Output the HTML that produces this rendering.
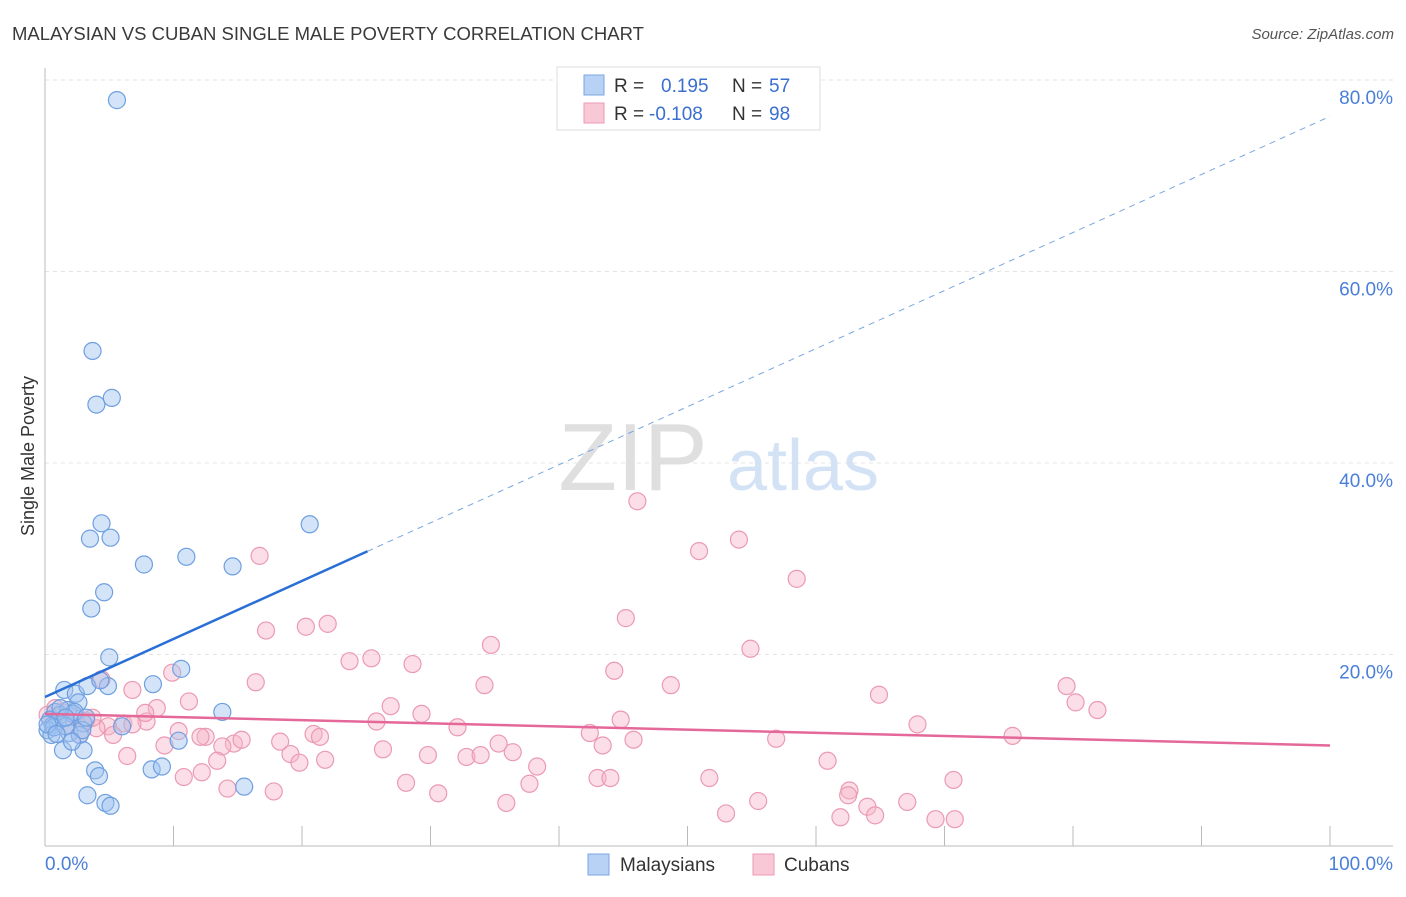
<!DOCTYPE html>
<html><head><meta charset="utf-8"><style>
body{margin:0;background:#fff;font-family:"Liberation Sans",sans-serif}
svg text{font-family:"Liberation Sans",sans-serif}
</style></head><body>
<svg id="chart" width="1406" height="892" xmlns="http://www.w3.org/2000/svg">
<text x="12" y="40" font-size="18" fill="#3a3a3a" textLength="632" lengthAdjust="spacingAndGlyphs">MALAYSIAN VS CUBAN SINGLE MALE POVERTY CORRELATION CHART</text>
<text x="1394" y="39" font-size="15" fill="#555" font-style="italic" text-anchor="end">Source: ZipAtlas.com</text>
<g id="grid"></g>
<g opacity="0.9">
<text x="633" y="490" font-size="96" font-family="Liberation Serif" fill="#dcdcdc" text-anchor="middle">ZIP</text>
<text x="803" y="490" font-size="72" fill="#cfe0f5" text-anchor="middle">atlas</text>
</g>
<text transform="translate(34,456) rotate(-90)" font-size="18" fill="#333" text-anchor="middle">Single Male Poverty</text>
<g id="points"></g>
<g id="trends"></g>
<g>
<rect x="557" y="67" width="263" height="63" fill="#fff" stroke="#ddd"/>
<rect x="584" y="75" width="20" height="20" fill="#b8d2f5" stroke="#7aa6e0"/>
<rect x="584" y="103" width="20" height="20" fill="#f8c8d6" stroke="#eb9ab3"/>
<text x="614" y="92" font-size="19" fill="#333">R =</text>
<text x="661" y="92" font-size="19" fill="#3a6fd0">0.195</text>
<text x="732" y="92" font-size="19" fill="#333">N =</text>
<text x="769" y="92" font-size="19" fill="#3a6fd0">57</text>
<text x="614" y="120" font-size="19" fill="#333">R =</text>
<text x="649" y="120" font-size="19" fill="#3a6fd0">-0.108</text>
<text x="732" y="120" font-size="19" fill="#333">N =</text>
<text x="769" y="120" font-size="19" fill="#3a6fd0">98</text>
</g>
<g>
<rect x="588" y="854" width="21" height="21" fill="#b8d2f5" stroke="#7aa6e0"/>
<text x="620" y="871" font-size="19" fill="#333">Malaysians</text>
<rect x="753" y="854" width="21" height="21" fill="#f8c8d6" stroke="#eb9ab3"/>
<text x="784" y="871" font-size="19" fill="#333">Cubans</text>
</g>
</svg>
<script>
const blueX=[5.6,3.7,4.0,5.2,4.4,3.5,5.1,20.6,7.7,11.0,14.6,4.6,3.6,5.0,10.6,8.4,1.5,2.4,3.3,4.9,2.6,4.3,0.8,1.2,1.8,2.2,0.4,0.6,1.0,3.0,0.2,0.5,1.9,2.7,2.9,6.0,13.8,10.4,1.4,3.0,3.9,4.2,8.3,9.1,3.3,4.7,5.1,15.5,0.7,1.6,0.2,0.9,2.3,3.2,1.2,1.6,2.1];
const blueY=[77.9,51.7,46.1,46.8,33.7,32.1,32.2,33.6,29.4,30.2,29.2,26.5,24.8,19.7,18.5,16.9,16.3,15.9,16.7,16.7,15.0,17.3,14.0,13.7,14.2,13.8,13.2,12.6,13.0,12.8,12.1,11.6,11.8,11.6,12.1,12.5,14.0,11.0,10.0,10.0,7.9,7.3,8.0,8.3,5.3,4.5,4.2,6.2,12.4,12.5,12.7,11.7,14.0,13.4,14.4,13.4,10.9];
const pinkX=[46.1,50.9,54.0,58.5,16.7,45.2,17.2,20.3,22.0,34.7,23.7,25.4,28.6,44.3,54.9,34.2,48.7,64.9,79.5,80.2,81.9,9.9,16.4,6.8,11.2,4.4,26.9,29.3,25.8,32.1,44.8,67.9,75.3,42.4,45.8,43.4,56.9,35.3,36.4,32.8,33.9,26.3,29.8,20.9,21.4,18.3,19.1,19.8,21.8,14.7,15.3,13.8,9.3,12.5,10.4,7.9,6.1,4.9,6.8,8.7,7.8,4.0,3.2,2.3,1.3,0.8,0.2,1.8,6.4,12.1,13.4,38.3,60.9,51.7,43.0,44.0,70.7,28.1,10.8,12.2,14.2,17.8,30.6,37.7,35.9,55.5,62.6,62.5,64.0,64.6,67.1,53.0,61.9,69.3,70.8,5.3,3.7,2.7];
const pinkY=[36.0,30.8,32.0,27.9,30.3,23.8,22.5,22.9,23.2,21.0,19.3,19.6,19.0,18.3,20.6,16.8,16.8,15.8,16.7,15.0,14.2,18.1,17.1,16.3,15.1,17.4,14.6,13.8,13.0,12.4,13.2,12.7,11.5,11.8,11.1,10.5,11.2,10.7,9.8,9.3,9.5,10.1,9.5,11.7,11.4,10.9,9.6,8.7,9.0,10.7,11.1,10.4,10.5,11.4,12.0,13.0,12.8,12.5,12.7,14.4,13.9,12.3,13.1,13.6,14.0,14.4,13.7,12.6,9.4,11.4,8.9,8.3,8.9,7.1,7.1,7.1,6.9,6.6,7.2,7.7,6.0,5.7,5.5,6.5,4.5,4.7,5.8,5.3,4.1,3.2,4.6,3.4,3.0,2.8,2.8,11.6,13.4,11.6];
const yTicks=[20,40,60,80];
const yTickLabels=["20.0%","40.0%","60.0%","80.0%"];
const xTicks=[0,10,20,30,40,50,60,70,80,90,100];
const blueTrend=[15.56,76.2];
const blueSolidEnd=25.1;
const pinkTrend=[13.8,10.5];

const X=v=>45+v*12.85, Y=v=>846-v*9.575;
const NS="http://www.w3.org/2000/svg";
function mk(tag,attrs,parent){const e=document.createElementNS(NS,tag);for(const k in attrs)e.setAttribute(k,attrs[k]);parent.appendChild(e);return e;}
const grid=document.getElementById('grid');
yTicks.forEach((t,i)=>{
 const l=mk('line',{x1:45,x2:1393,y1:Y(t),y2:Y(t),stroke:'#e4e4e4','stroke-dasharray':'4,4'},grid);
 
 
 const tx=mk('text',{x:1393,y:Y(t)+24,'font-size':19,fill:'#4a7fd8','text-anchor':'end'},grid);
 tx.textContent=yTickLabels[i];
 
 
});
const ax=mk('line',{x1:45,x2:45,y1:68,y2:846,stroke:'#bbb'},grid);


const bx=mk('line',{x1:45,x2:1393,y1:846,y2:846,stroke:'#bbb'},grid);


xTicks.forEach(t=>{
 const l=mk('line',{x1:X(t),x2:X(t),y1:826,y2:846,stroke:'#bbb'},grid);
 
 
});
const xl0=mk('text',{x:45,y:870,'font-size':19,fill:'#4a7fd8'},grid);xl0.textContent='0.0%';


const xl1=mk('text',{x:1393,y:870,'font-size':19,fill:'#4a7fd8','text-anchor':'end'},grid);xl1.textContent='100.0%';



const pts=document.getElementById('points');
pinkX.forEach((x,i)=>{
 const c=mk('circle',{cx:X(x),cy:Y(pinkY[i]),r:8.5,fill:'rgba(246,182,202,0.45)',stroke:'#eb9ab3','stroke-width':1.2},pts);
 
 
});
blueX.forEach((x,i)=>{
 const c=mk('circle',{cx:X(x),cy:Y(blueY[i]),r:8.5,fill:'rgba(160,196,240,0.45)',stroke:'#6f9fe0','stroke-width':1.2},pts);
 
 
});
const tr=document.getElementById('trends');
const by=x=>blueTrend[0]+(blueTrend[1]-blueTrend[0])*x/100;
const b1=mk('line',{x1:X(0),y1:Y(by(0)),x2:X(blueSolidEnd),y2:Y(by(blueSolidEnd)),stroke:'#2a6fd6','stroke-width':2.5},tr);


const b2=mk('line',{x1:X(blueSolidEnd),y1:Y(by(blueSolidEnd)),x2:X(100),y2:Y(by(100)),stroke:'#7aa6e0','stroke-width':1,'stroke-dasharray':'6,5'},tr);


const p1=mk('line',{x1:X(0),y1:Y(pinkTrend[0]),x2:X(100),y2:Y(pinkTrend[1]),stroke:'#e5689a','stroke-width':2.5},tr);


</script>
</body></html>
